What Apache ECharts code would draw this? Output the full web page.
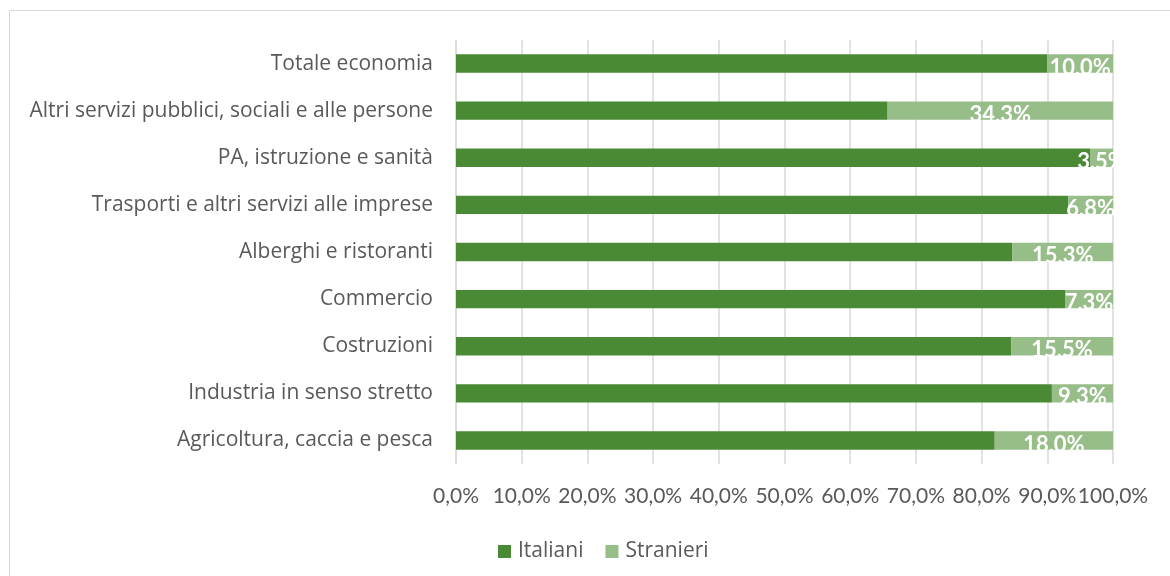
<!DOCTYPE html>
<html>
<head>
<meta charset="utf-8">
<script src="https://cdn.jsdelivr.net/npm/echarts@6/dist/echarts.min.js"></script>
<style>
  html, body { margin: 0; padding: 0; background: #fff; }
  #chart { width: 1170px; height: 576px; }
</style>
</head>
<body>
<div id="chart"></div>
<script>
// settori, dall'alto verso il basso
const categories = [
  'Totale economia',
  'Altri servizi pubblici, sociali e alle persone',
  'PA, istruzione e sanità',
  'Trasporti e altri servizi alle imprese',
  'Alberghi e ristoranti',
  'Commercio',
  'Costruzioni',
  'Industria in senso stretto',
  'Agricoltura, caccia e pesca'
];
const italiani = [90.0, 65.7, 96.5, 93.2, 84.7, 92.7, 84.5, 90.7, 82.0];
const stranieri = [10.0, 34.3, 3.5, 6.8, 15.3, 7.3, 15.5, 9.3, 18.0];
const xTicks = [0, 10, 20, 30, 40, 50, 60, 70, 80, 90, 100];

const fmt = v => v.toFixed(1).replace('.', ',') + '%';

const myChart = echarts.init(document.getElementById('chart'));

const option = {
  animation: false,
  textStyle: { fontFamily: 'Open Sans', color: '#595959' },
  graphic: [{
    type: 'rect',
    shape: { x: 9.5, y: 10.5, width: 1180, height: 600 },
    style: { fill: 'none', stroke: '#d9d9d9', lineWidth: 1 },
    silent: true
  }],
  grid: { left: 456, right: 57, top: 40, bottom: 112 },
  legend: {
    data: ['Italiani', 'Stranieri'],
    left: 493,
    top: 536,
    itemWidth: 13,
    itemHeight: 13,
    itemGap: 22,
    icon: 'rect',
    textStyle: { fontFamily: 'Open Sans', fontSize: 21, color: '#595959', padding: [0, 0, 0, 2] }
  },
  xAxis: {
    type: 'value',
    min: xTicks[0],
    max: xTicks[xTicks.length - 1],
    interval: 10,
    axisLine: { show: false },
    axisTick: { show: false },
    splitLine: { lineStyle: { color: '#d9d9d9', width: 1.5 } },
    axisLabel: {
      formatter: v => fmt(v),
      fontFamily: 'Lato',
      fontSize: 21,
      color: '#595959',
      margin: 22,
      hideOverlap: false
    }
  },
  yAxis: {
    type: 'category',
    inverse: true,
    data: categories,
    axisLine: { lineStyle: { color: '#d9d9d9', width: 1.5 } },
    axisTick: { show: false },
    axisLabel: { fontSize: 21, color: '#595959', margin: 23 }
  },
  series: [
    {
      name: 'Italiani',
      type: 'bar',
      stack: 'tot',
      data: italiani,
      barCategoryGap: '61%',
      itemStyle: { color: '#4b8a34' }
    },
    {
      name: 'Stranieri',
      type: 'bar',
      stack: 'tot',
      data: stranieri,
      itemStyle: { color: '#97bd89' },
      label: {
        show: true,
        position: 'inside',
        offset: [0, 4],
        formatter: p => fmt(p.value),
        color: '#fff',
        fontFamily: 'Lato',
        fontWeight: 'bold',
        fontSize: 22
      }
    }
  ]
};

myChart.setOption(option);
</script>
</body>
</html>
